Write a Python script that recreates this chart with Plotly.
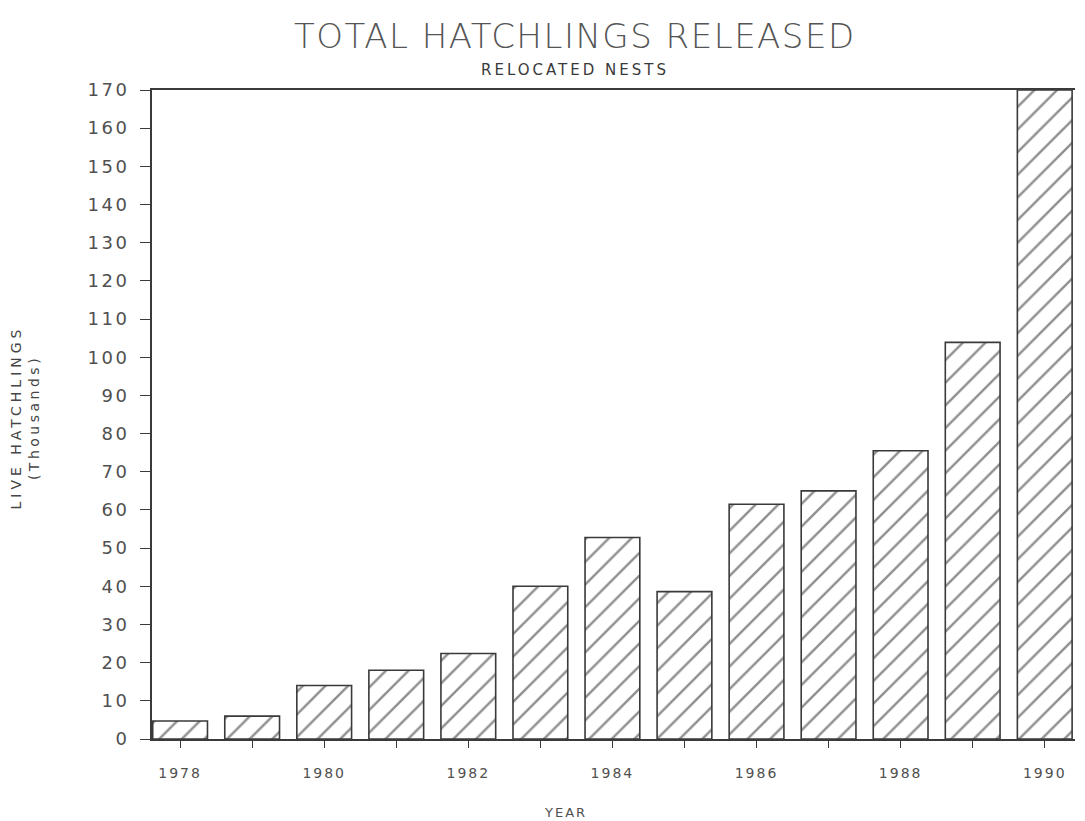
import plotly.graph_objects as go

years = [1978, 1979, 1980, 1981, 1982, 1983, 1984, 1985, 1986, 1987, 1988, 1989, 1990]
hatchlings_thousands = [4.7, 6.0, 14.0, 18.0, 22.4, 40.0, 52.8, 38.6, 61.5, 65.0, 75.5, 103.9, 170.0]
x_tick_years = [1978, 1980, 1982, 1984, 1986, 1988, 1990]
y_tick_values = list(range(0, 171, 10))

ink = "#3a3a3a"
text_grey = "#505050"


def spaced(text, px):
    """Wrap text in a span with extra letter spacing (wide plotter lettering)."""
    return f"<span style='letter-spacing:{px}px'>{text}</span>"


fig = go.Figure(
    go.Bar(
        x=years,
        y=hatchlings_thousands,
        width=0.76,
        marker=dict(
            color="white",
            line=dict(color=ink, width=1.6),
            pattern=dict(shape="/", size=16, solidity=0.15, fgcolor="#1e1e1e", bgcolor="white"),
        ),
        hoverinfo="x+y",
    )
)

fig.update_layout(
    width=1085,
    height=821,
    paper_bgcolor="white",
    plot_bgcolor="white",
    margin=dict(l=152, r=10, t=90, b=82),
    showlegend=False,
    bargap=0.24,
    annotations=[
        dict(
            text=spaced("TOTAL HATCHLINGS RELEASED", 1.5),
            xref="paper", yref="paper",
            x=0.458, y=1.0, yshift=54,
            xanchor="center", yanchor="middle",
            showarrow=False,
            font=dict(family="DejaVu Sans", size=34, color="#555555", weight=300),
        ),
        dict(
            text=spaced("RELOCATED NESTS", 3),
            xref="paper", yref="paper",
            x=0.458, y=1.0, yshift=20,
            xanchor="center", yanchor="middle",
            showarrow=False,
            font=dict(family="DejaVu Sans", size=15, color="#3a3a3a"),
        ),
        dict(
            text=spaced("LIVE HATCHLINGS", 4) + "<br>" + spaced("(Thousands)", 3.5),
            xref="paper", yref="paper",
            x=0.0, xshift=-128, y=0.5, yshift=-3,
            xanchor="center", yanchor="middle",
            textangle=-90,
            showarrow=False,
            font=dict(family="DejaVu Sans", size=14, color="#454545"),
        ),
        dict(
            text=spaced("YEAR", 2),
            xref="paper", yref="paper",
            x=0.448, y=0.0, yshift=-73,
            xanchor="center", yanchor="middle",
            showarrow=False,
            font=dict(family="DejaVu Sans", size=13, color=text_grey),
        ),
    ],
    xaxis=dict(
        range=[1977.61, 1990.42],
        tickvals=years,
        ticktext=[spaced(str(y), 2) if y in x_tick_years else "" for y in years],
        ticks="outside",
        ticklen=7,
        tickwidth=1.2,
        tickcolor=ink,
        ticklabelstandoff=13,
        showline=True,
        linecolor=ink,
        linewidth=2,
        mirror=True,
        showgrid=False,
        zeroline=False,
        tickfont=dict(family="DejaVu Sans", size=14, color=text_grey),
    ),
    yaxis=dict(
        range=[0, 170],
        tickvals=y_tick_values,
        ticktext=[spaced(str(v), 2.5) for v in y_tick_values],
        ticks="outside",
        ticklen=10,
        tickwidth=1.2,
        tickcolor=ink,
        ticklabelstandoff=7,
        showline=True,
        linecolor=ink,
        linewidth=2,
        showgrid=False,
        zeroline=False,
        tickfont=dict(family="DejaVu Sans", size=18, color=text_grey),
    ),
)

fig.write_html("out.html")
